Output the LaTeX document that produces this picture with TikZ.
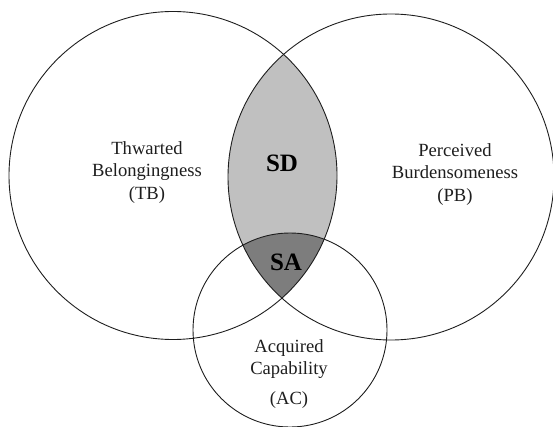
\documentclass[tikz,border=0pt]{standalone}
\usepackage{fontspec}
\setmainfont{Liberation Serif}
\definecolor{lensgray}{RGB}{192,192,192}
\definecolor{sagray}{RGB}{125,125,125}
\definecolor{inkcol}{RGB}{30,30,30}
\begin{document}
\begin{tikzpicture}[x=1pt,y=-1pt,
  ring/.style={draw=inkcol,line width=0.9pt},
  lbl/.style={align=center,text=inkcol,font=\fontsize{18.6}{22.5}\selectfont,inner sep=0pt},
  big/.style={text=black,font=\fontsize{25}{28}\selectfont\bfseries,inner sep=0pt}]
\useasboundingbox (0,0) rectangle (553,427);
\coordinate (cTB) at (173,175.5);
\coordinate (cPB) at (391,177);
\coordinate (cAC) at (290,330);
% SD lens
\begin{scope}
  \clip (cTB) circle (164);
  \fill[lensgray] (cPB) circle (163);
\end{scope}
% SA region
\begin{scope}
  \clip (cTB) circle (164);
  \clip (cPB) circle (163);
  \fill[sagray] (cAC) circle (97);
\end{scope}
\draw[ring] (cTB) circle (164);
\draw[ring] (cPB) circle (163);
\draw[ring] (cAC) circle (97);
\node[lbl] (tb) at (147,172.5) {Thwarted\\Belongingness\\(TB)};
\node[lbl] (pb) at (455,174.5) {Perceived\\Burdensomeness\\(PB)};
\node[lbl] (ac) at (289,374) {Acquired\\Capability\\[7pt](AC)};
\node[big] (sd) at (282,163) {SD};
\node[big] (sa) at (286,262) {SA};
\end{tikzpicture}
\end{document}
